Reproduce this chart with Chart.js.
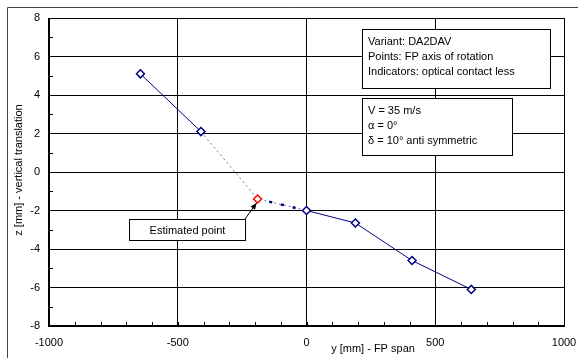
<!DOCTYPE html>
<html>
<head>
<meta charset="utf-8">
<script src="https://cdn.jsdelivr.net/npm/chart.js@4.4.1/dist/chart.umd.min.js"></script>
<style>
  html, body { margin: 0; padding: 0; background: #fff; }
  #wrap { width: 578px; height: 358px; position: relative; }
</style>
</head>
<body>
<div id="wrap"><canvas id="translationChart" width="578" height="358"></canvas></div>
<script>
// Spanwise positions [mm] and measured vertical translation [mm]
const spanLeft = [-645, -410];
const zLeft = [5.1, 2.1];
const spanRight = [0, 190, 410, 640];
const zRight = [-2.0, -2.65, -4.6, -6.1];
// Estimated point between the two measured groups
const spanEstimated = [-190];
const zEstimated = [-1.4];

const xTicks = [-1000, -500, 0, 500, 1000];
const yTicks = [-8, -6, -4, -2, 0, 2, 4, 6, 8];

const infoLines = ['Variant: DA2DAV', 'Points: FP axis of rotation', 'Indicators: optical contact less'];
const flowLines = ['V = 35 m/s', 'α = 0°', 'δ = 10° anti symmetric'];

const FONT = '11px "Liberation Sans", Arial, sans-serif';
const NAVY = '#000080';

function pts(xs, ys) {
    return xs.map((x, i) => ({ x: x, y: ys[i] }));
}

const interpX = [spanLeft[spanLeft.length - 1], spanEstimated[0], spanRight[0]];
const interpY = [zLeft[zLeft.length - 1], zEstimated[0], zRight[0]];

// frame, minor ticks, text boxes and axis titles
const extras = {
    id: 'extras',
    beforeDraw(chart) {
        const ctx = chart.ctx;
        ctx.save();
        ctx.strokeStyle = '#444';
        ctx.lineWidth = 1;
        ctx.beginPath();
        ctx.moveTo(7.5, 360);
        ctx.lineTo(7.5, 7.5);
        ctx.lineTo(580, 7.5);
        ctx.stroke();
        ctx.restore();
    },
    afterDatasetsDraw(chart) {
        const ctx = chart.ctx;
        const xs = chart.scales.x, ys = chart.scales.y;
        const a = chart.chartArea;
        ctx.save();

        // plot frame
        ctx.strokeStyle = '#000';
        ctx.lineWidth = 1;
        ctx.strokeRect(Math.round(a.left) + 0.5, Math.round(a.top) + 0.5,
            Math.round(a.right - a.left), Math.round(a.bottom - a.top));
        ctx.lineWidth = 2;
        ctx.beginPath();
        ctx.moveTo(Math.round(a.left), Math.round(a.top));
        ctx.lineTo(Math.round(a.left), Math.round(a.bottom));
        ctx.lineTo(Math.round(a.right) + 1, Math.round(a.bottom));
        ctx.stroke();

        // minor ticks inside the plot
        ctx.lineWidth = 1;
        ctx.beginPath();
        for (let v = -900; v < 1000; v += 100) {
            const px = Math.round(xs.getPixelForValue(v)) + 0.5;
            ctx.moveTo(px, a.bottom);
            ctx.lineTo(px, a.bottom - 4);
        }
        for (let v = -7; v < 8; v += 2) {
            const py = Math.round(ys.getPixelForValue(v)) + 0.5;
            ctx.moveTo(a.left, py);
            ctx.lineTo(a.left + 4, py);
        }
        ctx.stroke();

        ctx.font = FONT;
        ctx.fillStyle = '#000';
        ctx.textBaseline = 'middle';

        // legend-like text boxes
        function box(x, y, w, h, lines, step) {
            ctx.fillStyle = '#fff';
            ctx.fillRect(x, y, w, h);
            ctx.strokeStyle = '#000';
            ctx.lineWidth = 1;
            ctx.strokeRect(x + 0.5, y + 0.5, w, h);
            ctx.fillStyle = '#000';
            ctx.textAlign = 'left';
            lines.forEach((t, i) => ctx.fillText(t, x + 6, y + 13 + i * step));
        }
        box(362, 29, 188, 59, infoLines, 15);
        box(362, 98, 150, 57, flowLines, 15);

        // estimated point callout
        const ex = xs.getPixelForValue(spanEstimated[0]);
        const ey = ys.getPixelForValue(zEstimated[0]);
        ctx.strokeStyle = '#000';
        ctx.lineWidth = 1;
        ctx.beginPath();
        ctx.moveTo(245, 219);
        ctx.lineTo(ex - 1, ey + 4);
        ctx.stroke();
        const ang = Math.atan2(ey + 4 - 219, ex - 1 - 245);
        ctx.beginPath();
        ctx.moveTo(ex - 1, ey + 4);
        ctx.lineTo(ex - 1 - 7 * Math.cos(ang - 0.4), ey + 4 - 7 * Math.sin(ang - 0.4));
        ctx.lineTo(ex - 1 - 7 * Math.cos(ang + 0.4), ey + 4 - 7 * Math.sin(ang + 0.4));
        ctx.closePath();
        ctx.fillStyle = '#000';
        ctx.fill();
        ctx.fillStyle = '#fff';
        ctx.fillRect(129, 219, 117, 22);
        ctx.strokeRect(129.5, 219.5, 116, 21);
        ctx.fillStyle = '#000';
        ctx.textAlign = 'center';
        ctx.fillText('Estimated point', 187.5, 230.5);

        // axis titles
        ctx.fillText('y [mm] - FP span', 373, 349);
        ctx.translate(19, 170);
        ctx.rotate(-Math.PI / 2);
        ctx.fillText('z [mm] - vertical translation', 0, 0);
        ctx.restore();
    }
};

const ctx = document.getElementById('translationChart').getContext('2d');

const translationChart = new Chart(ctx, {
    type: 'scatter',
    data: {
        datasets: [
            {
                data: pts(spanEstimated, zEstimated),
                pointStyle: 'rectRot',
                pointRadius: 4,
                pointBorderColor: '#ff0000',
                pointBackgroundColor: '#fff',
                pointBorderWidth: 1.5,
                showLine: false,
                order: 0
            },
            {
                data: pts(spanLeft, zLeft),
                showLine: true,
                borderColor: NAVY,
                borderWidth: 1,
                pointStyle: 'rectRot',
                pointRadius: 4,
                pointBorderColor: NAVY,
                pointBackgroundColor: '#fff',
                pointBorderWidth: 1.5,
                order: 1
            },
            {
                data: pts(spanRight, zRight),
                showLine: true,
                borderColor: NAVY,
                borderWidth: 1,
                pointStyle: 'rectRot',
                pointRadius: 4,
                pointBorderColor: NAVY,
                pointBackgroundColor: '#fff',
                pointBorderWidth: 1.5,
                order: 1
            },
            {
                // thin interpolation through the estimated point
                data: pts(interpX, interpY),
                showLine: true,
                borderColor: '#6a6ac4',
                borderWidth: 1,
                borderDash: [2, 3],
                pointRadius: 0,
                order: 3
            },
            {
                data: pts(spanEstimated.concat([spanRight[0]]), zEstimated.concat([zRight[0]])),
                showLine: true,
                borderColor: NAVY,
                borderWidth: 2.5,
                borderDash: [3, 9],
                pointRadius: 0,
                order: 2
            }
        ]
    },
    options: {
        responsive: false,
        animation: false,
        events: [],
        layout: { padding: { left: 0, right: 14, top: 18, bottom: 0 } },
        plugins: {
            legend: { display: false },
            tooltip: { enabled: false }
        },
        scales: {
            x: {
                type: 'linear',
                min: -1000,
                max: 1000,
                afterBuildTicks: s => { s.ticks = xTicks.map(v => ({ value: v })); },
                afterFit: s => { s.height = 32; s.paddingLeft = 0; s.paddingRight = 0; },
                grid: { color: '#000', drawTicks: false, lineWidth: 1 },
                border: { display: false },
                ticks: {
                    color: '#000',
                    font: { family: '"Liberation Sans", Arial, sans-serif', size: 11 },
                    padding: 10,
                    maxRotation: 0,
                    callback: v => String(v)
                }
            },
            y: {
                type: 'linear',
                min: -8,
                max: 8,
                afterBuildTicks: s => { s.ticks = yTicks.map(v => ({ value: v })); },
                afterFit: s => { s.width = 49; s.paddingTop = 0; s.paddingBottom = 0; },
                grid: { color: '#000', drawTicks: false, lineWidth: 1 },
                border: { display: false },
                ticks: {
                    color: '#000',
                    font: { family: '"Liberation Sans", Arial, sans-serif', size: 11 },
                    padding: 9,
                    callback: v => String(v)
                }
            }
        }
    },
    plugins: [extras]
});
</script>
</body>
</html>
